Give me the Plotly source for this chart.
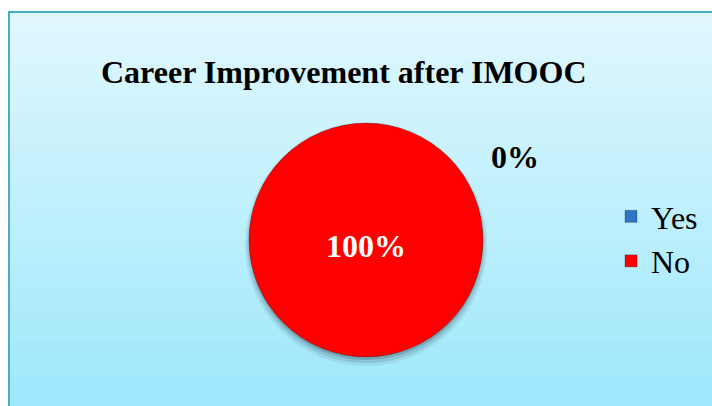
import plotly.graph_objects as go

categories = ["Yes", "No"]
values = [0, 100]
colors = ["#2E75C8", "#FF0000"]
title_text = "Career Improvement after IMOOC"

W, H = 712, 406
cx, cy, r = 366, 240, 117

fig = go.Figure()

fig.add_trace(go.Pie(
    labels=categories,
    values=values,
    marker=dict(colors=colors, line=dict(color="rgba(0,0,0,0.25)", width=1)),
    sort=False,
    direction="clockwise",
    rotation=90,
    textinfo="none",
    hoverinfo="label+percent",
    showlegend=True,
    domain=dict(x=[(cx - r) / W, (cx + r) / W], y=[(H - cy - r) / H, (H - cy + r) / H]),
))

shapes = []
# gradient background inside the chart frame
x0p, y1p = 9 / W, 1 - 12 / H
n = 40
c_top = (224, 247, 254)
c_bot = (158, 232, 252)
for i in range(n):
    t = i / (n - 1)
    col = tuple(int(round(c_top[k] + (c_bot[k] - c_top[k]) * t)) for k in range(3))
    ya = y1p - (y1p + 0.01) * i / n
    yb = y1p - (y1p + 0.01) * (i + 1) / n
    shapes.append(dict(type="rect", xref="paper", yref="paper", x0=x0p, x1=1.01,
                       y0=yb - 0.002, y1=ya, fillcolor="rgb(%d,%d,%d)" % col,
                       line=dict(width=0), layer="below"))
# frame
shapes.append(dict(type="rect", xref="paper", yref="paper", x0=x0p, x1=1.01, y0=-0.01, y1=y1p,
                   line=dict(color="#4BACC6", width=2), fillcolor="rgba(0,0,0,0)", layer="below"))
# soft shadow under pie
for k, a in enumerate([0.08, 0.12, 0.18]):
    rr = r + 4 - k * 2
    sx, sy = cx, cy + 5 - k
    shapes.append(dict(type="circle", xref="paper", yref="paper",
                       x0=(sx - rr) / W, x1=(sx + rr) / W,
                       y0=(H - sy - rr) / H, y1=(H - sy + rr) / H,
                       fillcolor="rgba(20,40,50,%.2f)" % a, line=dict(width=0), layer="below"))

pct = [v / sum(values) * 100 for v in values]
annotations = [
    dict(text="<b>" + title_text + "</b>", x=344 / W, y=1 - 72 / H, xref="paper", yref="paper",
         showarrow=False, font=dict(family="Liberation Serif", size=32, color="black"),
         xanchor="center", yanchor="middle"),
    dict(text="<b>%d%%</b>" % round(pct[0]), x=515 / W, y=1 - 157 / H, xref="paper", yref="paper",
         showarrow=False, font=dict(family="Liberation Serif", size=32, color="black"),
         xanchor="center", yanchor="middle"),
    dict(text="<b>%d%%</b>" % round(pct[1]), x=366 / W, y=1 - 246 / H, xref="paper", yref="paper",
         showarrow=False, font=dict(family="Liberation Serif", size=32, color="white"),
         xanchor="center", yanchor="middle"),
]

fig.update_layout(
    width=W, height=H,
    margin=dict(l=0, r=0, t=0, b=0),
    paper_bgcolor="white",
    plot_bgcolor="rgba(0,0,0,0)",
    shapes=shapes,
    annotations=annotations,
    legend=dict(x=611 / W, y=1 - 189 / H, xanchor="left", yanchor="top",
                font=dict(family="Liberation Serif", size=32, color="black"),
                bgcolor="rgba(0,0,0,0)", itemwidth=30),
)

fig.write_html("out.html", config={"displayModeBar": False},
               post_script="document.body.style.margin='0';")
